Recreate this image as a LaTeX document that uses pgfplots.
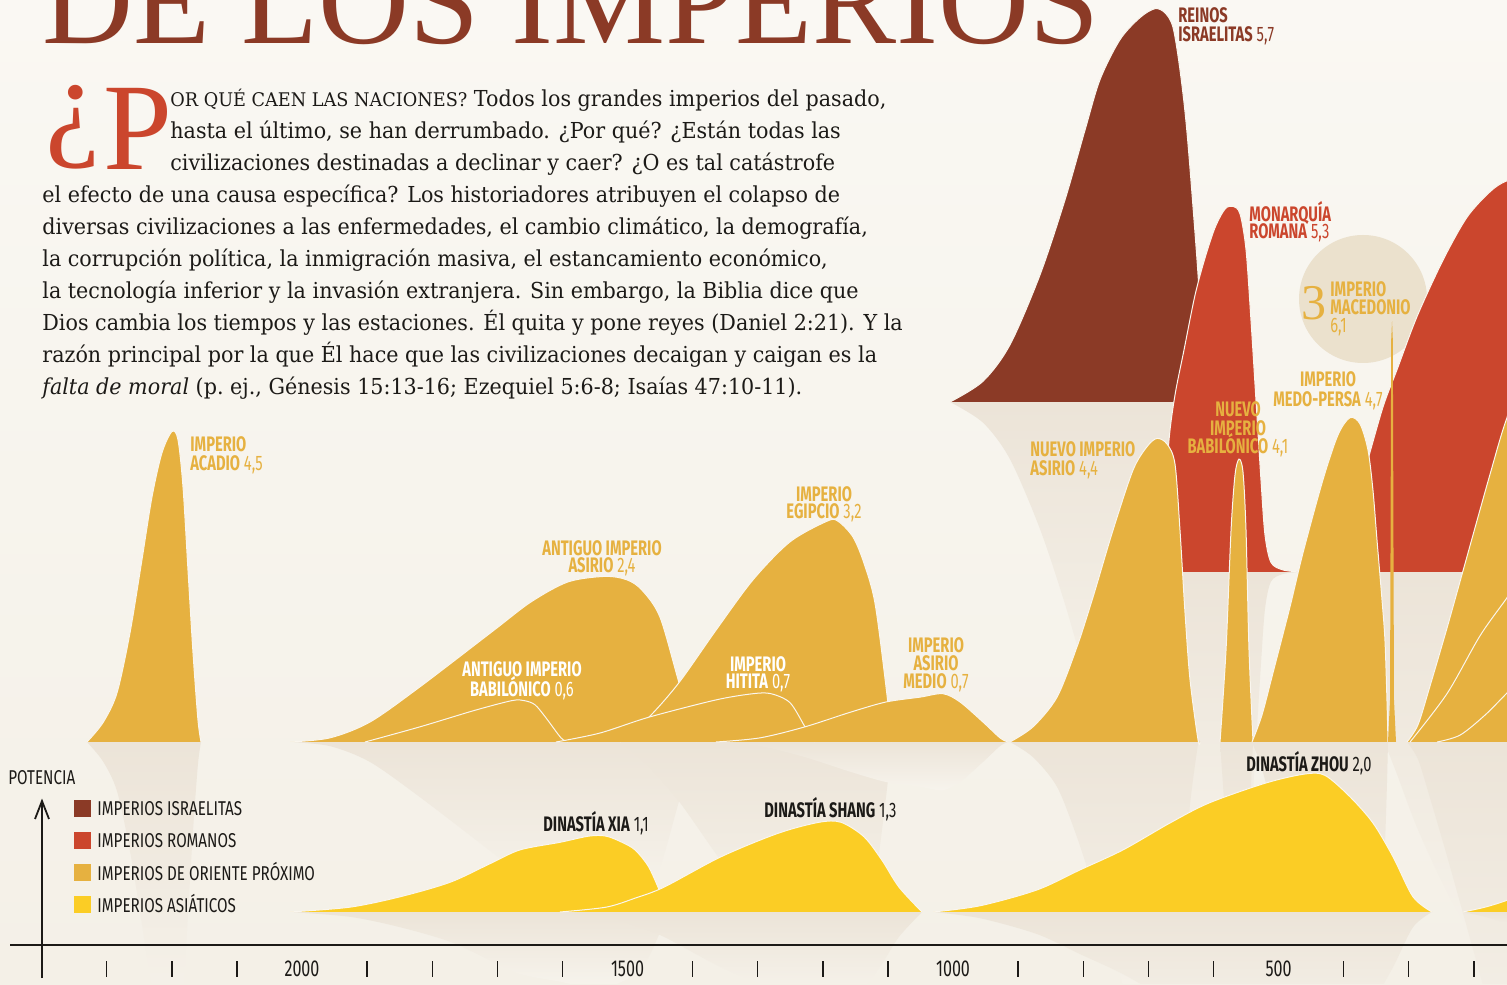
\documentclass[border=0pt]{standalone}
\usepackage{pgfplots}
\pgfplotsset{compat=1.18}
\usepackage{pgfplotstable}
\usepackage{fontspec}
\setmainfont{DejaVu Serif}
\newfontfamily\bodyf[FakeStretch=0.94]{DejaVu Serif}
\newfontfamily\titlef{Liberation Serif}
\newfontfamily\labf[FakeStretch=0.7]{Fira Sans}
\newfontfamily\legf[FakeStretch=0.76]{Fira Sans}

\definecolor{bgt}{HTML}{FAF8F3}
\definecolor{bgb}{HTML}{F4F0E7}
\definecolor{refl}{HTML}{ECE4D8}
\definecolor{fadec}{HTML}{F7F4ED}
\definecolor{edge}{HTML}{FAF6EE}
\definecolor{isr}{HTML}{8B3A26}
\definecolor{rom}{HTML}{CB462D}
\definecolor{ne}{HTML}{E6B140}
\definecolor{asia}{HTML}{FBCD25}
\definecolor{circ}{HTML}{EBE1CD}
\definecolor{ink}{HTML}{1C1A17}

% baselines of the four rows, in power units (1 unit = 69 px)
\def\bA{1.0435}
\def\bN{3.5072}
\def\bR{5.9710}
\def\bI{8.4348}

\newcommand\shp[3]{\addplot[smooth, fill=#1, draw=edge, line width=0.5pt] table[x=yr, y expr=\thisrow{p}+#2] {#3};}
\newcommand\rfl[2]{\addplot[smooth, draw=none, top color=refl, middle color=fadec, bottom color=fadec] table[x=yr, y expr=#1-\thisrow{p}] {#2};}
\newcommand\lb[5]{\node[anchor=#3, inner sep=0pt, text=#4, font=\labf\fontsize{10.5}{10}\selectfont] at (#1,#2) {#5};}

\begin{document}

\pgfplotstableread{
yr p
1004.6 0
953.9 0.30
912.4 0.83
866.4 1.84
827.9 2.93
797.2 3.94
774.2 4.67
743.5 5.25
712.8 5.57
689.7 5.70
674.4 5.64
662.1 5.43
651.3 4.81
640.5 3.90
625.2 2.06
617.5 0.90
611.4 0
}\tIsr

\pgfplotstableread{
yr p
678.9 0
672.8 1.04
668.2 1.91
658.9 2.57
645.1 3.22
628.3 4.01
612.9 4.55
597.5 4.99
582.2 5.26
569.9 5.30
559.1 5.19
549.9 4.67
542.3 3.65
534.6 2.49
526.9 1.33
520.8 0.54
511.6 0.14
493.2 0.03
467.0 0
}\tMon

\pgfplotstableread{
yr p
420.9 0
390.2 0.75
367.1 1.48
339.5 2.39
318.0 2.93
287.3 3.70
247.3 4.52
210.5 5.14
175.1 5.51
149.0 5.67
98.4 5.80
36.9 5.75
-100 0
}\tRomR

\pgfplotstableread{
yr p
2330.3 0
2305.7 0.28
2284.2 0.71
2264.2 1.58
2245.8 2.64
2230.4 3.55
2215.1 4.19
2199.7 4.50
2190.5 4.38
2182.8 3.70
2175.1 2.49
2167.4 1.29
2159.8 0.32
2155.1 0
}\tAcad

\pgfplotstableread{
yr p
2018.4 0
1957.0 0.06
1895.5 0.29
1818.7 0.80
1705.1 1.62
1648.2 2.03
1591.4 2.32
1534.6 2.40
1500.8 2.35
1477.7 2.20
1450.1 1.81
1420.9 0.86
1393.2 0
}\tAsiA

\pgfplotstableread{
yr p
1903.2 0
1818.7 0.22
1734.2 0.46
1677.4 0.60
1658.9 0.60
1642.1 0.54
1625.2 0.35
1602.1 0.06
1591.4 0
}\tBabA

\pgfplotstableread{
yr p
1511.5 0
1467.0 0.36
1420.9 0.86
1364.1 1.62
1307.2 2.35
1250.4 2.90
1193.5 3.20
1176.7 3.20
1153.6 2.97
1136.7 2.59
1119.8 2.01
1102.9 0.80
1093.7 0
}\tEgy

\pgfplotstableread{
yr p
1609.8 0
1542.3 0.13
1467.0 0.36
1364.1 0.61
1307.2 0.70
1279.6 0.70
1250.4 0.57
1227.3 0.22
1212.0 0
}\tHit

\pgfplotstableread{
yr p
1364.1 0
1296.5 0.06
1227.3 0.22
1158.2 0.43
1102.9 0.58
1050.7 0.65
1015.4 0.70
989.2 0.58
954.0 0.29
927.8 0.06
915.5 0
}\tAsM

\pgfplotstableread{
yr p
912.5 0
877.1 0.22
840.2 0.65
809.5 1.38
784.9 2.10
754.2 3.07
723.5 3.94
702.0 4.28
686.6 4.40
671.3 4.32
659.0 4.03
651.3 3.07
643.6 1.87
635.9 0.90
623.6 0.03
620.5 0
}\tNAs

\pgfplotstableread{
yr p
589.8 0
580.6 1.33
572.9 3.07
566.8 3.87
560.6 4.10
554.5 3.91
549.9 3.07
545.3 1.33
539.1 0
}\tNBa

\pgfplotstableread{
yr p
540.7 0
525.4 0.39
508.5 1.00
482.3 1.96
462.4 2.74
431.7 3.80
408.6 4.45
390.2 4.70
374.8 4.61
362.5 4.23
354.9 3.65
348.7 2.93
341.1 2.07
336.5 1.48
333.4 0.61
331.8 0
}\tMP

\pgfplotstableread{
yr p
331.8 0
328.7 0.61
326.9 5.83
325.6 6.10
324.4 5.83
322.6 0.61
319.5 0
}\tMac

\pgfplotstableread{
yr p
302.6 0
285.7 0.25
267.3 0.81
241.2 1.65
216.6 2.48
175.1 3.88
149.0 4.70
113.6 5.46
-100 0
}\tNEa

\pgfplotstableread{
yr p
297.9 0
241.2 0.70
190.4 1.54
149.0 2.09
113.6 2.57
-100 0
}\tNEb

\pgfplotstableread{
yr p
256.4 0
221.1 0.10
182.8 0.39
149.0 0.71
113.6 1.04
-100 0
}\tNEc

\pgfplotstableread{
yr p
2018.4 0
1926.3 0.07
1849.5 0.22
1772.7 0.43
1711.2 0.70
1665.1 0.90
1603.7 1.01
1559.1 1.10
1533.0 1.10
1508.4 1.01
1488.5 0.90
1468.5 0.67
1453.1 0.36
1437.8 0
}\tXia

\pgfplotstableread{
yr p
1603.7 0
1533.0 0.07
1488.5 0.20
1443.9 0.36
1356.4 0.80
1268.8 1.14
1205.8 1.30
1172.0 1.30
1136.7 1.09
1109.1 0.75
1083.0 0.36
1047.6 0
}\tShang

\pgfplotstableread{
yr p
1030.7 0
958.5 0.09
870.9 0.32
804.9 0.61
738.8 0.90
666.7 1.29
606.7 1.58
519.2 1.87
459.3 2.00
428.6 1.98
390.2 1.67
354.9 1.29
324.1 0.80
293.4 0.22
264.2 0
}\tZhou

\pgfplotstableread{
yr p
216.6 0
182.8 0.07
149.0 0.17
113.6 0.32
-100 0
}\tAsR

\begin{tikzpicture}
\path[use as bounding box] (0,0) rectangle (753.5pt,492pt);
\clip (0,0) rectangle (753.5pt,492pt);
\shade[top color=bgt, bottom color=bgb] (0,0) rectangle (753.5pt,492pt);
\begin{scope}[x=0.5pt,y=-0.5pt,shift={(0pt,492pt)}]
\fill[circ] (1363,299) circle[radius=64];
\end{scope}

\begin{axis}[at={(0pt,0pt)}, anchor=south west, scale only axis,
  width=753.5pt, height=492pt, xmin=149, xmax=2463.9, x dir=reverse,
  ymin=0, ymax=14.2609, hide axis, clip=true]
% reflections
\rfl{\bI}{\tIsr}
\rfl{\bR}{\tMon}
\rfl{\bR}{\tRomR}
\rfl{\bN}{\tAcad}
\rfl{\bN}{\tAsiA}
\rfl{\bN}{\tEgy}
\rfl{\bN}{\tAsM}
\rfl{\bN}{\tNAs}
\rfl{\bN}{\tNBa}
\rfl{\bN}{\tMP}
\rfl{\bN}{\tNEa}
\rfl{\bA}{\tXia}
\rfl{\bA}{\tShang}
\rfl{\bA}{\tZhou}
\rfl{\bA}{\tAsR}
% israelite
\shp{isr}{\bI}{\tIsr}
% roman
\shp{rom}{\bR}{\tMon}
\shp{rom}{\bR}{\tRomR}
% near east
\shp{ne}{\bN}{\tAcad}
\shp{ne}{\bN}{\tAsiA}
\shp{ne}{\bN}{\tBabA}
\shp{ne}{\bN}{\tEgy}
\shp{ne}{\bN}{\tHit}
\shp{ne}{\bN}{\tAsM}
\shp{ne}{\bN}{\tNAs}
\shp{ne}{\bN}{\tNBa}
\shp{ne}{\bN}{\tMP}
\shp{ne}{\bN}{\tNEa}
\shp{ne}{\bN}{\tNEb}
\shp{ne}{\bN}{\tNEc}
\addplot[fill=ne, draw=none] table[x=yr, y expr=\thisrow{p}+\bN] {\tMac};
% asia
\shp{asia}{\bA}{\tXia}
\shp{asia}{\bA}{\tShang}
\shp{asia}{\bA}{\tZhou}
\shp{asia}{\bA}{\tAsR}
\end{axis}

\begin{scope}[x=0.5pt,y=-0.5pt,shift={(0pt,492pt)}]
% title and text
\node[anchor=base west, inner sep=0pt, text=isr, font=\titlef\fontsize{63}{63}\selectfont] at (42,44) {DE LOS IMPERIOS};
\node[anchor=south west, inner sep=0pt, text=rom, font=\titlef\fontsize{62}{62}\selectfont] at (45,170) {¿};
\node[anchor=base west, inner sep=0pt, text=rom, font=\titlef\fontsize{62}{62}\selectfont] at (103,170) {P};
\begin{scope}[every node/.style={anchor=base west, inner sep=0pt, text=ink, font=\bodyf\fontsize{11}{16}\selectfont}]
\node at (170,107) {{\fontsize{9.4}{16}\selectfont OR QUÉ CAEN LAS NACIONES?} Todos los grandes imperios del pasado,};
\node at (170,139) {hasta el último, se han derrumbado. ¿Por qué? ¿Están todas las};
\node at (170,171) {civilizaciones destinadas a declinar y caer? ¿O es tal catástrofe};
\node at (42,203) {el efecto de una causa específica? Los historiadores atribuyen el colapso de};
\node at (42,235) {diversas civilizaciones a las enfermedades, el cambio climático, la demografía,};
\node at (42,267) {la corrupción política, la inmigración masiva, el estancamiento económico,};
\node at (42,299) {la tecnología inferior y la invasión extranjera. Sin embargo, la Biblia dice que};
\node at (42,331) {Dios cambia los tiempos y las estaciones. Él quita y pone reyes (Daniel 2:21). Y la};
\node at (42,363) {razón principal por la que Él hace que las civilizaciones decaigan y caigan es la};
\node at (42,395) {\textit{falta de moral} (p.\ ej., Génesis 15:13-16; Ezequiel 5:6-8; Isaías 47:10-11).};
\end{scope}
% labels
\lb{190}{452}{base west}{ne}{\bfseries IMPERIO}
\lb{190}{471}{base west}{ne}{\textbf{ACADIO} 4,5}
\lb{602}{556}{base}{ne}{\bfseries ANTIGUO IMPERIO}
\lb{602}{573}{base}{ne}{\textbf{ASIRIO} 2,4}
\lb{824}{502}{base}{ne}{\bfseries IMPERIO}
\lb{824}{519}{base}{ne}{\textbf{EGIPCIO} 3,2}
\lb{522}{677}{base}{white}{\bfseries ANTIGUO IMPERIO}
\lb{522}{697}{base}{white}{\textbf{BABILÓNICO} 0,6}
\lb{758}{672}{base}{white}{\bfseries IMPERIO}
\lb{758}{689}{base}{white}{\textbf{HITITA} 0,7}
\lb{936}{653}{base}{ne}{\bfseries IMPERIO}
\lb{936}{671}{base}{ne}{\bfseries ASIRIO}
\lb{936}{689}{base}{ne}{\textbf{MEDIO} 0,7}
\lb{1030}{457}{base west}{ne}{\bfseries NUEVO IMPERIO}
\lb{1030}{476}{base west}{ne}{\textbf{ASIRIO} 4,4}
\lb{1238}{417}{base}{ne}{\bfseries NUEVO}
\lb{1238}{436}{base}{ne}{\bfseries IMPERIO}
\lb{1238}{454}{base}{ne}{\textbf{BABILÓNICO} 4,1}
\lb{1328}{387}{base}{ne}{\bfseries IMPERIO}
\lb{1328}{407}{base}{ne}{\textbf{MEDO-PERSA} 4,7}
\lb{1330}{297}{base west}{ne}{\bfseries IMPERIO}
\lb{1330}{315}{base west}{ne}{\bfseries MACEDONIO}
\lb{1330}{333}{base west}{ne}{6,1}
\node[anchor=base west, inner sep=0pt, text=ne, font=\titlef\fontsize{25}{25}\selectfont] at (1301,320) {3};
\lb{1178}{23}{base west}{isr}{\bfseries REINOS}
\lb{1178}{42}{base west}{isr}{\textbf{ISRAELITAS} 5,7}
\lb{1249}{222}{base west}{rom}{\bfseries MONARQUÍA}
\lb{1249}{239}{base west}{rom}{\textbf{ROMANA} 5,3}
\lb{1246}{772}{base west}{ink}{\textbf{DINASTÍA ZHOU} 2,0}
\lb{764}{818}{base west}{ink}{\textbf{DINASTÍA SHANG} 1,3}
\lb{543}{832}{base west}{ink}{\textbf{DINASTÍA XIA} 1,1}
% legend
\node[anchor=base west, inner sep=0pt, text=ink, font=\legf\fontsize{10}{10}\selectfont] at (8,785) {POTENCIA};
\fill[isr] (74,800) rectangle (91,817);
\fill[rom] (74,832) rectangle (91,849);
\fill[ne] (74,864) rectangle (91,881);
\fill[asia] (74,896) rectangle (91,913);
\begin{scope}[every node/.style={anchor=base west, inner sep=0pt, text=ink, font=\legf\fontsize{10}{10}\selectfont}]
\node at (97,816) {IMPERIOS ISRAELITAS};
\node at (97,848) {IMPERIOS ROMANOS};
\node at (97,880) {IMPERIOS DE ORIENTE PRÓXIMO};
\node at (97,912) {IMPERIOS ASIÁTICOS};
\end{scope}
% time axis
\draw[ink, line width=1pt] (10,945) -- (1510,945);
\draw[ink, line width=0.9pt] (42,978) -- (42,801);
\draw[ink, line width=0.9pt, line join=miter] (35,819) -- (42,801) -- (49,819);
\foreach \yr in {2300,2200,2100,1900,1800,1700,1600,1400,1300,1200,1100,900,800,700,600,400,300,200}
  \draw[ink, line width=0.7pt] ({302+(2000-\yr)*0.651},961) -- ++(0,16);
\foreach \yr in {2000,1500,1000,500}
  \node[anchor=base, inner sep=0pt, text=ink, font=\labf\fontsize{11.5}{11}\selectfont] at ({302+(2000-\yr)*0.651},976) {\yr};
\end{scope}
\end{tikzpicture}
\end{document}
